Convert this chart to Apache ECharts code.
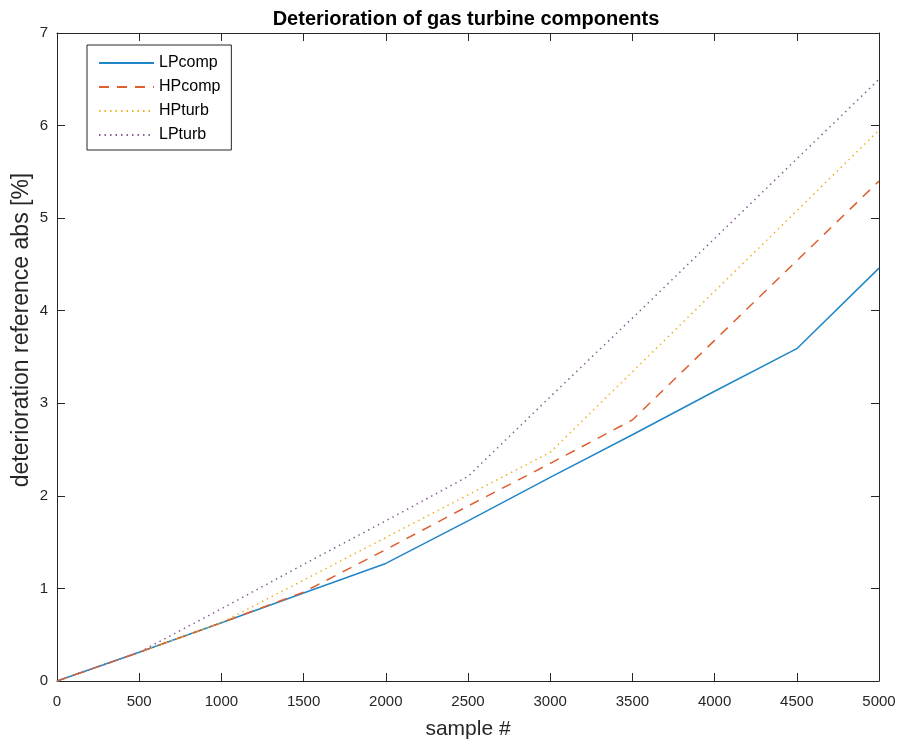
<!DOCTYPE html>
<html>
<head>
<meta charset="utf-8">
<script src="https://cdn.jsdelivr.net/npm/echarts@6/dist/echarts.min.js"></script>
<style>html,body{margin:0;padding:0;background:#fff}#c{width:901px;height:745px}</style>
</head>
<body>
<div id="c"></div>
<script>
const samples = [0, 500, 1000, 1500, 2000, 2500, 3000, 3500, 4000, 4500, 5000];
const LPcomp = [0, 0.31, 0.63, 0.95, 1.27, 1.73, 2.20, 2.66, 3.13, 3.59, 4.46];
const HPcomp = [0, 0.31, 0.63, 0.96, 1.42, 1.89, 2.35, 2.82, 3.68, 4.54, 5.40];
const HPturb = [0, 0.31, 0.63, 1.09, 1.55, 2.01, 2.47, 3.34, 4.21, 5.08, 5.95];
const LPturb = [0, 0.31, 0.78, 1.26, 1.73, 2.21, 3.07, 3.92, 4.78, 5.64, 6.50];
const seriesNames = ['LPcomp', 'HPcomp', 'HPturb', 'LPturb'];
const xTicks = {min: 0, max: 5000, step: 500};
const yTicks = {min: 0, max: 7, step: 1};
const titleText = 'Deterioration of gas turbine components';
const xName = 'sample #';
const yName = 'deterioration reference abs [%]';

const FONT = '"Liberation Sans", Arial, sans-serif';
const AX = '#262626';
const pairs = v => samples.map((s, i) => [s, v[i]]);
const colors = ['#1F86C8', '#DD5F2E', '#EDB120', '#8A5E97'];
const styles = ['solid', [10, 8], [1.5, 4], [1.5, 4]];
const data = [LPcomp, HPcomp, HPturb, LPturb];

const chart = echarts.init(document.getElementById('c'), null, {renderer: 'canvas'});
const axisCommon = {
  axisLine: {show: true, onZero: false, lineStyle: {color: AX, width: 1}},
  axisTick: {show: true, inside: true, length: 8, lineStyle: {color: AX}},
  splitLine: {show: false}
};
chart.setOption({
  backgroundColor: '#fff',
  animation: false,
  title: {
    text: titleText,
    left: 461, top: 4, textAlign: 'center',
    textStyle: {fontFamily: FONT, fontSize: 20, fontWeight: 'bold', color: '#000'}
  },
  graphic: [{
    type: 'text',
    x: 22, y: 330,
    rotation: Math.PI / 2,
    style: {
      text: yName, fontFamily: FONT, fontSize: 23, fill: AX,
      align: 'center', verticalAlign: 'middle'
    },
    silent: true
  }],
  grid: {left: 57, right: 22, top: 33, bottom: 61, containLabel: false},
  legend: {
    left: 87, top: 45, orient: 'vertical',
    data: seriesNames,
    itemWidth: 55, itemHeight: 14, itemGap: 8,
    padding: [10, 11, 7, 11],
    borderColor: AX, borderWidth: 1, backgroundColor: '#fff',
    itemStyle: {opacity: 0},
    textStyle: {fontFamily: FONT, fontSize: 16, color: '#000'}
  },
  xAxis: [
    Object.assign({}, axisCommon, {
      type: 'value', min: xTicks.min, max: xTicks.max, interval: xTicks.step,
      name: xName, nameLocation: 'middle', nameGap: 38,
      nameTextStyle: {fontFamily: FONT, fontSize: 21, color: AX},
      axisLabel: {fontFamily: FONT, fontSize: 15, color: AX, margin: 13, formatter: v => String(v)}
    }),
    Object.assign({}, axisCommon, {
      type: 'value', position: 'top', min: xTicks.min, max: xTicks.max, interval: xTicks.step,
      axisLabel: {show: false}
    })
  ],
  yAxis: [
    Object.assign({}, axisCommon, {
      type: 'value', min: yTicks.min, max: yTicks.max, interval: yTicks.step,
      axisLabel: {fontFamily: FONT, fontSize: 15, color: AX, margin: 9}
    }),
    Object.assign({}, axisCommon, {
      type: 'value', position: 'right', min: yTicks.min, max: yTicks.max, interval: yTicks.step,
      axisLabel: {show: false}
    })
  ],
  series: seriesNames.map((n, i) => ({
    name: n, type: 'line', data: pairs(data[i]),
    xAxisIndex: 0, yAxisIndex: 0,
    showSymbol: false, symbol: 'none',
    itemStyle: {color: colors[i]},
    lineStyle: {color: colors[i], width: 1.5, type: styles[i]}
  }))
});
</script>
</body>
</html>
